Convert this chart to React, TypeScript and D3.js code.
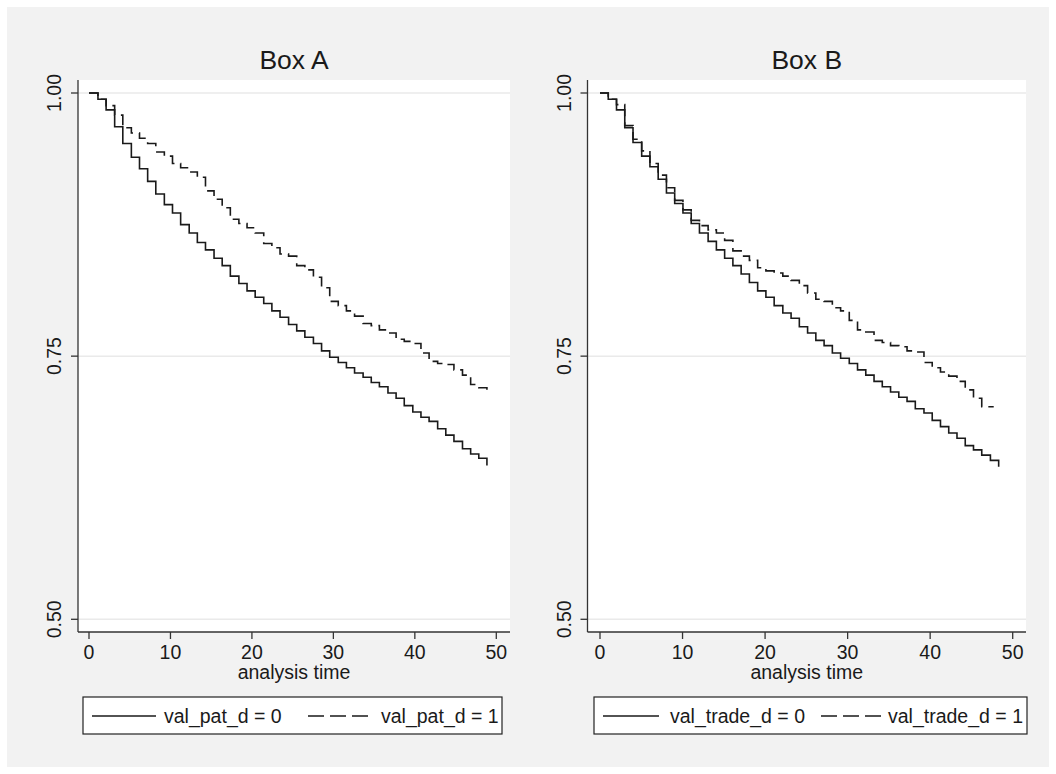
import React from "react";
import * as d3 from "d3";

// ---- data (Kaplan-Meier survival estimates) ----
const xTicks = [0, 10, 20, 30, 40, 50];
const yTicks = [0.5, 0.75, 1.0];
const yTickLabels = ["0.50", "0.75", "1.00"];

// Box A: step times and survival after each step
const timesA = [
  1.1, 2.1, 3.15, 4.15, 5.2, 6.2, 7.2, 8.2, 9.25, 10.25, 11.25, 12.3, 13.3, 14.3,
  15.35, 16.35, 17.35, 18.4, 19.4, 20.4, 21.45, 22.45, 23.45, 24.5, 25.5, 26.5,
  27.55, 28.55, 29.55, 30.6, 31.6, 32.6, 33.65, 34.65, 35.65, 36.7, 37.7, 38.7,
  39.75, 40.75, 41.75, 42.8, 43.8, 44.8, 45.85, 46.85, 47.85, 48.85,
];
const survPat0 = [
  0.994, 0.984, 0.968, 0.952, 0.939, 0.928, 0.916, 0.904, 0.894, 0.886, 0.875,
  0.867, 0.858, 0.851, 0.843, 0.836, 0.826, 0.819, 0.812, 0.806, 0.8, 0.793,
  0.787, 0.78, 0.774, 0.768, 0.762, 0.755, 0.749, 0.744, 0.739, 0.734, 0.73,
  0.725, 0.721, 0.715, 0.71, 0.703, 0.697, 0.692, 0.688, 0.681, 0.675, 0.669,
  0.662, 0.657, 0.653, 0.646,
];
const survPat1 = [
  0.994, 0.988, 0.979, 0.967, 0.962, 0.957, 0.952, 0.944, 0.94, 0.933, 0.929,
  0.925, 0.92, 0.907, 0.899, 0.891, 0.88, 0.876, 0.872, 0.867, 0.857, 0.853,
  0.847, 0.845, 0.836, 0.832, 0.825, 0.815, 0.802, 0.798, 0.793, 0.788, 0.781,
  0.779, 0.775, 0.772, 0.766, 0.764, 0.762, 0.753, 0.745, 0.743, 0.742, 0.737,
  0.732, 0.723, 0.72, 0.718,
];
const endPat0 = 48.85;
const endPat1 = 48.85;

// Box B
const timesB = [
  1.0, 2.0, 3.0, 4.0, 5.05, 6.05, 7.05, 8.05, 9.05, 10.05, 11.05, 12.05, 13.1,
  14.1, 15.1, 16.1, 17.1, 18.1, 19.1, 20.1, 21.1, 22.15, 23.15, 24.15, 25.15,
  26.15, 27.15, 28.15, 29.15, 30.2, 31.2, 32.2, 33.2, 34.2, 35.2, 36.2, 37.2,
  38.2, 39.25, 40.25, 41.25, 42.25, 43.25, 44.25, 45.25, 46.25, 47.3, 48.3,
];
const survTrade0 = [
  0.994, 0.984, 0.967, 0.953, 0.94, 0.93, 0.918, 0.905, 0.895, 0.886, 0.876,
  0.867, 0.859, 0.851, 0.843, 0.836, 0.828, 0.82, 0.812, 0.806, 0.798, 0.791,
  0.786, 0.778, 0.772, 0.765, 0.76, 0.753, 0.748, 0.743, 0.737, 0.732, 0.726,
  0.721, 0.716, 0.711, 0.707, 0.7, 0.696, 0.689, 0.683, 0.677, 0.672, 0.665,
  0.661, 0.656, 0.651, 0.645,
];
const survTrade1 = [
  0.994, 0.989, 0.969, 0.956, 0.945, 0.933, 0.922, 0.91, 0.898, 0.889, 0.879,
  0.874, 0.87, 0.867, 0.86, 0.85, 0.845, 0.841, 0.834, 0.831, 0.829, 0.826,
  0.822, 0.817, 0.81, 0.804, 0.802, 0.796, 0.793, 0.784, 0.775, 0.773, 0.765,
  0.763, 0.76, 0.759, 0.755, 0.754, 0.744, 0.739, 0.735, 0.731, 0.726, 0.718,
  0.71, 0.702,
];
const endTrade0 = 48.3;
const endTrade1 = 47.7;

const titles = ["Box A", "Box B"];
const legendA = ["val_pat_d = 0", "val_pat_d = 1"];
const legendB = ["val_trade_d = 0", "val_trade_d = 1"];
const xTitle = "analysis time";

// ---- styling ----
const FONT = "'Liberation Sans', Arial, Helvetica, sans-serif";
const INK = "#1a1a1a";
const PLOT_TOP = 80;
const PLOT_BOTTOM = 632;

const y = d3.scaleLinear().domain([0.5, 1]).range([619.3, 93]);

function stepPath(x, times, values, end) {
  const pts = [[0, 1]];
  values.forEach((v, i) => pts.push([times[i], v]));
  const last = values[values.length - 1];
  if (end > times[values.length - 1] + 0.01) pts.push([end, last]);
  return d3
    .line()
    .x((d) => x(d[0]))
    .y((d) => y(d[1]))
    .curve(d3.curveStepAfter)(pts);
}

function Panel({ title, frame, times, series, legend }) {
  const x = d3.scaleLinear().domain([0, 50]).range([frame.x0, frame.x50]);
  const cx = (frame.left + frame.right) / 2;
  return (
    <g>
      <rect
        x={frame.left}
        y={PLOT_TOP}
        width={frame.right - frame.left}
        height={PLOT_BOTTOM - PLOT_TOP}
        fill="#fff"
      />
      {yTicks.map((t) => (
        <line
          key={t}
          x1={frame.left}
          x2={frame.right}
          y1={y(t)}
          y2={y(t)}
          stroke="#eaeaea"
          strokeWidth={1.5}
        />
      ))}
      <text
        x={cx}
        y={69}
        textAnchor="middle"
        fontFamily={FONT}
        fontSize={26.5}
        fill={INK}
      >
        {title}
      </text>

      {series.map((s, i) => (
        <path
          key={i}
          d={stepPath(x, times, s.values, s.end)}
          fill="none"
          stroke={INK}
          strokeWidth={1.6}
          strokeDasharray={s.dash ? "12 6" : undefined}
        />
      ))}

      {/* axes */}
      <line x1={frame.left} x2={frame.left} y1={PLOT_TOP} y2={PLOT_BOTTOM} stroke="#333" strokeWidth={1.3} />
      <line x1={frame.left} x2={frame.right} y1={PLOT_BOTTOM} y2={PLOT_BOTTOM} stroke="#333" strokeWidth={1.3} />
      {yTicks.map((t, i) => (
        <g key={t}>
          <line x1={frame.left - 7} x2={frame.left} y1={y(t)} y2={y(t)} stroke="#333" strokeWidth={1.3} />
          <text
            transform={`translate(${frame.left - 17},${y(t)}) rotate(-90)`}
            textAnchor="middle"
            fontFamily={FONT}
            fontSize={19.5}
            fill={INK}
          >
            {yTickLabels[i]}
          </text>
        </g>
      ))}
      {xTicks.map((t) => (
        <g key={t}>
          <line x1={x(t)} x2={x(t)} y1={PLOT_BOTTOM} y2={PLOT_BOTTOM + 7} stroke="#333" strokeWidth={1.3} />
          <text x={x(t)} y={659} textAnchor="middle" fontFamily={FONT} fontSize={19.5} fill={INK}>
            {t}
          </text>
        </g>
      ))}
      <text x={cx} y={679} textAnchor="middle" fontFamily={FONT} fontSize={19.5} fill={INK}>
        {xTitle}
      </text>

      {/* legend */}
      <rect
        x={legend.left}
        y={697}
        width={legend.right - legend.left}
        height={37}
        fill="#fff"
        stroke="#222"
        strokeWidth={1.2}
      />
      {legend.items.map((it, i) => (
        <g key={i}>
          <line
            x1={it.from}
            x2={it.to}
            y1={716}
            y2={716}
            stroke={INK}
            strokeWidth={1.6}
            strokeDasharray={i === 1 ? "16 6" : undefined}
          />
          <text x={it.textX} y={723} fontFamily={FONT} fontSize={19.5} fill={INK}>
            {legend.labels[i]}
          </text>
        </g>
      ))}
    </g>
  );
}

export default function App() {
  return (
    <svg
      width={1056}
      height={774}
      style={{ position: "absolute", left: 0, top: 0 }}
    >
      <rect x={0} y={0} width={1056} height={774} fill="#fff" />
      <rect x={7} y={7} width={1042} height={760} fill="#f2f2f2" />
      <Panel
        title={titles[0]}
        frame={{ left: 78, right: 510, x0: 89, x50: 496.3 }}
        times={timesA}
        series={[
          { values: survPat0, end: endPat0, dash: false },
          { values: survPat1, end: endPat1, dash: true },
        ]}
        legend={{
          left: 83,
          right: 502,
          labels: legendA,
          items: [
            { from: 92, to: 156, textX: 164 },
            { from: 308, to: 368, textX: 381 },
          ],
        }}
      />
      <Panel
        title={titles[1]}
        frame={{ left: 587.5, right: 1026, x0: 600, x50: 1012.7 }}
        times={timesB}
        series={[
          { values: survTrade0, end: endTrade0, dash: false },
          { values: survTrade1, end: endTrade1, dash: true },
        ]}
        legend={{
          left: 594,
          right: 1027,
          labels: legendB,
          items: [
            { from: 603, to: 659, textX: 670 },
            { from: 821, to: 882, textX: 888 },
          ],
        }}
      />
    </svg>
  );
}
